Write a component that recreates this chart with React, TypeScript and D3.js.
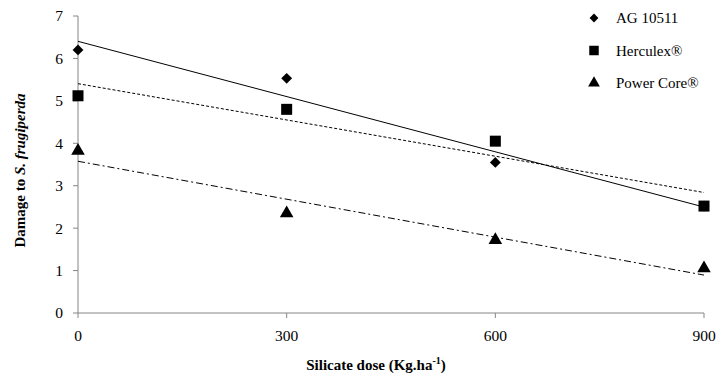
import React from "react";
import * as d3 from "d3";

const doses = [0, 300, 600, 900];
const agValues = [6.2, 5.53, 3.55, 2.52];
const herculexValues = [5.12, 4.8, 4.05, 2.52];
const powerCoreValues = [3.82, 2.35, 1.72, 1.05];
const xTicks = [0, 300, 600, 900];
const yTicks = [0, 1, 2, 3, 4, 5, 6, 7];

const WIDTH = 716;
const HEIGHT = 378;
const AXIS = "#868686";
const FONT = "'Liberation Serif', 'Times New Roman', serif";

const x = d3.scaleLinear().domain([0, 900]).range([78, 704]);
const y = d3.scaleLinear().domain([0, 7]).range([313, 16]);

// least squares trend line for each cultivar
function fit(values: number[]) {
  const mx = d3.mean(doses) as number;
  const my = d3.mean(values) as number;
  const sxy = d3.sum(doses, (d, i) => (d - mx) * (values[i] - my));
  const sxx = d3.sum(doses, (d) => (d - mx) * (d - mx));
  const slope = sxy / sxx;
  const b = my - slope * mx;
  return (v: number) => b + slope * v;
}

const series = [
  { name: "AG 10511", values: agValues, symbol: d3.symbolDiamond2, size: 75, legSize: 50, dash: "" },
  { name: "Herculex®", values: herculexValues, symbol: d3.symbolSquare, size: 121, legSize: 90, dash: "3,2" },
  { name: "Power Core®", values: powerCoreValues, symbol: d3.symbolTriangle, size: 80, legSize: 60, dash: "7,3,2,3" },
];

const line = d3.line<number>().x((d) => x(d[0])).y((d) => y(d[1]));

export default function App() {
  return (
    <svg width={WIDTH} height={HEIGHT} style={{ position: "absolute", left: 0, top: 0, background: "#fff" }}>
      {/* axes */}
      <line x1={x(0)} x2={x(0)} y1={y(7)} y2={y(0)} stroke={AXIS} />
      <line x1={x(0)} x2={x(900)} y1={y(0)} y2={y(0)} stroke={AXIS} />
      {yTicks.map((t) => (
        <g key={"y" + t}>
          <line x1={x(0) - 5} x2={x(0)} y1={y(t)} y2={y(t)} stroke={AXIS} />
          <text x={x(0) - 15} y={y(t)} dy="0.35em" textAnchor="end" fontFamily={FONT} fontSize={15.5}>
            {t}
          </text>
        </g>
      ))}
      {xTicks.map((t) => (
        <g key={"x" + t}>
          <line x1={x(t)} x2={x(t)} y1={y(0)} y2={y(0) + 5} stroke={AXIS} />
          <text x={x(t)} y={y(0) + 28} textAnchor="middle" fontFamily={FONT} fontSize={15.5}>
            {t}
          </text>
        </g>
      ))}

      {/* trend lines */}
      {series.map((s) => {
        const f = fit(s.values);
        return (
          <path
            key={"l" + s.name}
            d={line([[0, f(0)], [900, f(900)]] as any) || ""}
            fill="none"
            stroke="#000"
            strokeWidth={1}
            strokeDasharray={s.dash}
          />
        );
      })}

      {/* points */}
      {series.map((s) =>
        s.values.map((v, i) => (
          <path
            key={s.name + i}
            transform={`translate(${x(doses[i])},${y(v)})`}
            d={d3.symbol(s.symbol, s.size)() || ""}
            fill="#000"
          />
        ))
      )}

      {/* legend */}
      {series.map((s, i) => (
        <g key={"lg" + s.name} transform={`translate(594,${18 + i * 32.5})`}>
          <path d={d3.symbol(s.symbol, s.legSize)() || ""} fill="#000" />
          <text x={22} dy="0.35em" fontFamily={FONT} fontSize={15}>
            {s.name}
          </text>
        </g>
      ))}

      {/* axis titles */}
      <text
        transform={`translate(25,${(y(0) + y(7)) / 2 + 6}) rotate(-90)`}
        textAnchor="middle"
        fontFamily={FONT}
        fontSize={15}
        fontWeight="bold"
      >
        Damage to <tspan fontStyle="italic">S. frugiperda</tspan>
      </text>
      <text x={376} y={370} textAnchor="middle" fontFamily={FONT} fontSize={15} fontWeight="bold">
        Silicate dose (Kg.ha
        <tspan fontSize={10} dy={-6}>-1</tspan>
        <tspan dy={6}>)</tspan>
      </text>
    </svg>
  );
}
